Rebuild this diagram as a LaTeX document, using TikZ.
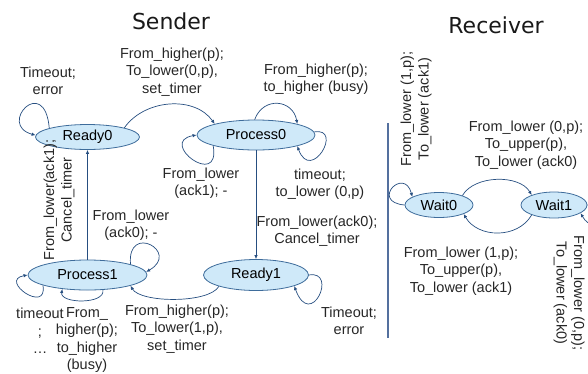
\documentclass[tikz,border=0pt]{standalone}
\usepackage{fontspec}
\setmainfont{Liberation Sans}
\newfontfamily\titlefont{DejaVu Sans}
\usetikzlibrary{shapes.geometric,arrows.meta}
\definecolor{statefill}{RGB}{207,233,249}
\definecolor{stateline}{RGB}{62,108,155}
\definecolor{edgeline}{RGB}{38,78,128}
\definecolor{sepline}{RGB}{84,112,158}

\begin{document}
\begin{tikzpicture}[x=1pt,y=1pt,
  state/.style={ellipse,draw=stateline,fill=statefill,line width=0.8pt,inner sep=0pt,
    font=\fontsize{14.5}{17.5}\selectfont},
  lbl/.style={align=center,inner sep=0pt,text=black!85,font=\fontsize{14.5}{17.5}\selectfont},
  ttl/.style={anchor=base,inner sep=0pt,text=black!90,font=\titlefont\fontsize{22}{26}\selectfont},
  trans/.style={draw=edgeline,line width=0.7pt,-{Latex[length=4pt,width=3.5pt]}}]
\useasboundingbox (0,0) rectangle (588,-373);
% titles
\node[ttl] (sender) at (171,-29) {Sender};
\node[ttl] (receiver) at (496,-33) {Receiver};
% sender states
\node[state,minimum width=104,minimum height=25] (ready0) at (87.5,-137) {Ready0};
\node[state,minimum width=118,minimum height=30] (proc0) at (256,-135) {Process0};
\node[state,minimum width=119,minimum height=30] (proc1) at (87.5,-275) {Process1};
\node[state,minimum width=105,minimum height=31] (ready1) at (256,-275) {Ready1};
% receiver states
\node[state,minimum width=68,minimum height=25] (wait0) at (439,-205) {Wait0};
\node[state,minimum width=66,minimum height=26] (wait1) at (554,-205) {Wait1};
% separator
\draw[sepline,line width=2pt] (388,-123) -- (388,-338);
% sender transitions
\draw[trans] (ready0.167) .. controls +(95:55) and +(165:40) .. (ready0.178);
\draw[trans] (ready0.14) .. controls +(55:35) and +(125:35) .. (proc0.165);
\draw[trans] (proc0.95) .. controls +(70:25) and +(100:25) .. (proc0.15);
\draw[trans] (proc0.3) .. controls +(10:30) and +(-70:40) .. (proc0.-15);
\draw[trans] (proc0.194) .. controls +(-80:45) and +(190:40) .. (proc0.180);
\draw[trans] (proc0.south) -- (ready1.north);
\draw[trans] (proc1.north) -- (ready0.south);
\draw[trans] (proc1.14) .. controls +(95:42) and +(30:40) .. (proc1.3);
\draw[trans] (proc1.193) .. controls +(-80:30) and +(190:30) .. (proc1.180);
\draw[trans] (proc1.-44) .. controls +(-80:15) and +(-100:15) .. (proc1.209);
\draw[trans] (ready1.197) .. controls +(-120:20) and +(-60:20) .. (proc1.346);
\draw[trans] (ready1.0) .. controls +(10:30) and +(-70:48) .. (ready1.-16);
% receiver transitions
\draw[trans] (wait0.180) .. controls +(175:35) and +(105:32) .. (wait0.163);
\draw[trans] (wait0.22) .. controls +(60:24) and +(120:24) .. (wait1.156);
\draw[trans] (wait1.204) .. controls +(-120:28) and +(-60:28) .. (wait0.-20);
\draw[trans] (wait1.0) .. controls +(0:25) and +(-60:30) .. (wait1.-17);
% sender labels
\node[lbl] (l-r0) at (48,-81) {Timeout;\\error};
\node[lbl] (l-r0p0) at (172,-72) {From\_higher(p);\\To\_lower(0,p),\\set\_timer};
\node[lbl] (l-p0top) at (316,-79) {From\_higher(p);\\to\_higher (busy)};
\node[lbl] (l-p0right) at (320,-184) {timeout;\\to\_lower (0,p)};
\node[lbl] (l-p0left) at (201,-183) {From\_lower\\(ack1); -};
\node[lbl] (l-p0r1) at (317,-231) {From\_lower(ack0);\\Cancel\_timer};
\node[lbl] (l-p1top) at (131,-225) {From\_lower\\(ack0); -};
\node[lbl,rotate=90] (l-p1r0) at (59,-200) {From\_lower(ack1);\\Cancel\_timer};
\node[lbl] (l-p1left) at (40,-331) {timeout\\;\\…};
\node[lbl] (l-p1bot) at (87,-340) {From\_\\higher(p);\\to\_higher\\(busy)};
\node[lbl] (l-r1p1) at (177,-329) {From\_higher(p);\\To\_lower(1,p),\\set\_timer};
\node[lbl] (l-r1) at (349,-321) {Timeout;\\error};
% receiver labels
\node[lbl,rotate=90] (l-w0) at (416,-109) {From\_lower (1,p);\\To\_lower (ack1)};
\node[lbl] (l-w0w1) at (526,-145) {From\_lower (0,p);\\To\_upper(p),\\To\_lower (ack0)};
\node[lbl] (l-w1w0) at (461,-271) {From\_lower (1,p);\\To\_upper(p),\\To\_lower (ack1)};
\node[lbl,rotate=-90] (l-w1) at (569,-293) {From\_lower (0,p);\\To\_lower (ack0)};
\end{tikzpicture}
\end{document}
